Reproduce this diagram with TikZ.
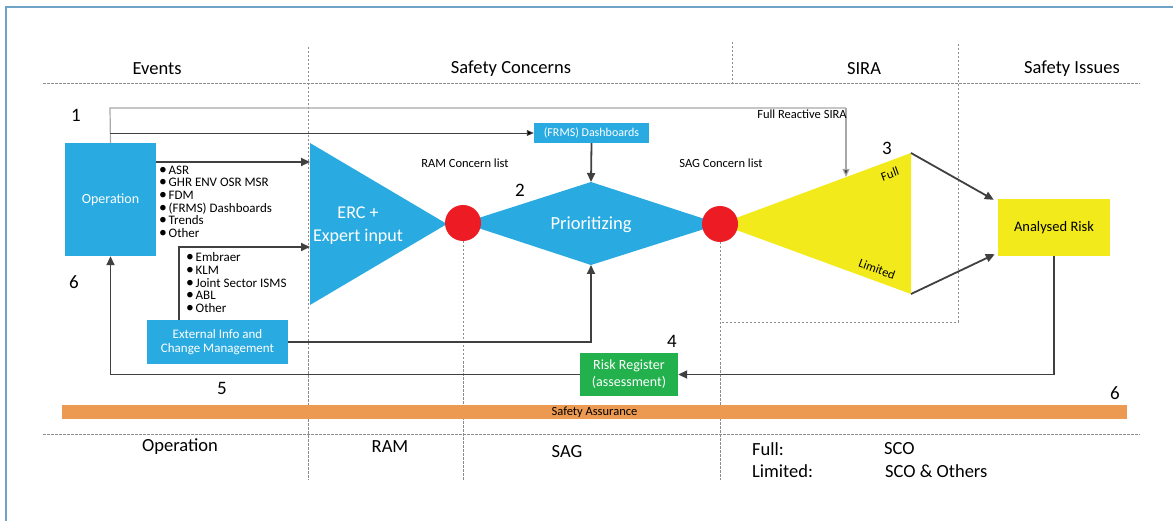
\documentclass[tikz,border=0pt]{standalone}
\usepackage{fontspec}
\usepackage{graphicx}
\setmainfont{Carlito}
\usetikzlibrary{arrows.meta,calc}
\definecolor{cblue}{HTML}{29ABE2}
\definecolor{cred}{HTML}{ED1C24}
\definecolor{cyellow}{HTML}{F2EA1B}
\definecolor{cgreen}{HTML}{22B14C}
\definecolor{corange}{HTML}{EC9A52}
\definecolor{dgray}{HTML}{404040}
\definecolor{lgray}{HTML}{A8A8A8}
\definecolor{framec}{HTML}{6FA3C7}
\definecolor{dashc}{HTML}{8C8C8C}
\newcommand{\fs}[1]{\fontsize{#1}{#1}\selectfont}
\newcommand{\bl}{\makebox[9.5pt][l]{\scalebox{1.2}{•}}}
\tikzset{
  dsh/.style={draw=dashc, line width=0.6pt, dash pattern=on 2.5pt off 1.5pt},
  box/.style={rectangle, inner sep=0pt, text=white, align=center},
  arr/.style={draw=dgray, line width=1.8pt, -{Triangle[length=9pt,width=8pt]}},
  thinarr/.style={draw=dgray, line width=0.9pt, -{Triangle[length=7pt,width=6pt]}},
  hdr/.style={font=\fs{18.5}, text=black},
  num/.style={font=\fs{19}, text=black},
  small/.style={font=\fs{12.5}, text=black},
  lst/.style={font=\fontsize{13}{12.7}\selectfont, align=left, inner sep=0pt, anchor=north west, text=black},
}
\begin{document}
\begin{tikzpicture}[x=1pt,y=-1pt]
\useasboundingbox (0,0) rectangle (1173,521);
% frame
\draw[framec, line width=1.3pt] (6,521) -- (6,7) -- (1173,7);
% dashed guide lines
\draw[dsh] (43,83) -- (1140,83);
\draw[dsh] (43,434) -- (1140,434);
\draw[dsh] (308,47) -- (308,480);
\draw[dsh] (732,42) -- (732,83);
\draw[dsh] (958,44) -- (958,322) -- (720,322);
\draw[dsh] (463,241) -- (463,480);
\draw[dsh] (720,242) -- (720,480);
% headers
\node[hdr] (hev) at (157,69) {Events};
\node[hdr] (hsc) at (511,69) {Safety Concerns};
\node[hdr] (hsira) at (864,69) {SIRA};
\node[hdr] (hsi) at (1072,69) {Safety Issues};
% ERC triangle
\coordinate (t1) at (310,143);
\coordinate (t2) at (310,305);
\coordinate (t3) at (447,224);
\fill[cblue] (t1) -- (t3) -- (t2) -- cycle;
\node[text=white, align=center, font=\fontsize{18}{23}\selectfont] (erc) at (358,226) {ERC +\\Expert input};
% diamond
\coordinate (dtop) at (591,182);
\coordinate (dbot) at (591,265);
\coordinate (dleft) at (463,223);
\coordinate (dright) at (720,224);
\fill[cblue] (dtop) -- (dright) -- (dbot) -- (dleft) -- cycle;
\node[text=white, font=\fs{18.5}] (pri) at (591,225) {Prioritizing};
% yellow triangle
\coordinate (y1) at (720,224);
\coordinate (y2) at (911,153);
\coordinate (y3) at (911,294);
\coordinate (fullpt) at (846,177);
\fill[cyellow] (y1) -- (y2) -- (y3) -- cycle;
\node[small, rotate=20] (tfull) at (890,174) {Full};
\node[small, rotate=-20] (tlim) at (877,269) {Limited};
% red circles
\node[circle, fill=cred, minimum size=36pt, inner sep=0pt] (c1) at (463,223) {};
\node[circle, fill=cred, minimum size=36pt, inner sep=0pt] (c2) at (720,224) {};
% boxes
\node[box, fill=cblue, minimum width=91pt, minimum height=113pt, font=\fs{14}] (op) at (110.5,199.5) {Operation};
\node[box, fill=cblue, minimum width=115pt, minimum height=20pt, font=\fs{12}] (dash) at (591.5,133) {(FRMS) Dashboards};
\node[box, fill=cblue, minimum width=141pt, minimum height=44pt, font=\fontsize{13}{14.5}\selectfont] (ext) at (217.5,342) {External Info and\\Change Management};
\node[box, fill=cyellow, text=black, minimum width=112pt, minimum height=57pt, font=\fs{14.5}] (ar) at (1054,227.5) {Analysed Risk};
\node[box, fill=cgreen, minimum width=98pt, minimum height=43pt, font=\fontsize{14}{17}\selectfont] (rr) at (629,374.5) {Risk Register\\(assessment)};
\node[rectangle, fill=corange, minimum width=1065pt, minimum height=14pt, inner sep=0pt, font=\fs{12.5}] (sa) at (594.5,412) {Safety Assurance};
% connectors
\coordinate (j1) at (110,108);
\coordinate (j2) at (846,108);
\coordinate (j3) at (110,133);
\draw[lgray, line width=1.2pt] (op.north) -- (j1) -- (j2);
\draw[draw=lgray, line width=1.2pt, -{Triangle[length=8pt,width=7pt,fill=dgray]}] (j2) -- (fullpt);
\draw[thinarr, -{Triangle[length=7pt,width=6pt,fill=black]}] (j3) -- (dash.west);
\draw[arr] (dash.south) -- (dtop);
\coordinate (ein1) at (310,162);
\coordinate (ein2) at (310,247);
\draw[arr] (op.east |- ein1) -- (ein1);
\coordinate (es) at (179,320);
\draw[arr] (es) |- (ein2);
\draw[arr] (ext.east) -- (ext.east -| dbot) -- (dbot);
\draw[arr] (y2) -- ([xshift=-4pt,yshift=-1pt]ar.north west);
\draw[arr] (y3) -- ([xshift=-3pt,yshift=2pt]ar.south west);
\draw[arr] (ar.south) -- (ar.south |- rr.east) -- (rr.east);
\draw[arr] (rr.west) -| (op.south);
% lists
\node[lst] (l1) at (159,165.5) {\bl ASR\\\bl GHR ENV OSR MSR\\\bl FDM\\\bl (FRMS) Dashboards\\\bl Trends\\\bl Other};
\node[lst] (l2) at (186,252.5) {\bl Embraer\\\bl KLM\\\bl Joint Sector ISMS\\\bl ABL\\\bl Other};
% labels
\node[small] (ram) at (465,163) {RAM Concern list};
\node[small] (sag) at (721,163) {SAG Concern list};
\node[small] (frs) at (802,114) {Full Reactive SIRA};
% numbers
\node[num] (n1) at (76,115) {1};
\node[num] (n2) at (520,190) {2};
\node[num] (n3) at (887,148) {3};
\node[num] (n4) at (672,341) {4};
\node[num] (n5) at (222,388) {5};
\node[num] (n6a) at (74,282) {6};
\node[num] (n6b) at (1115,393) {6};
% bottom labels
\node[hdr] (bop) at (180,447) {Operation};
\node[hdr] (bram) at (390,447) {RAM};
\node[hdr] (bsag) at (567,452) {SAG};
\node[hdr, anchor=west, inner sep=0pt] (bfull) at (752,449) {Full:};
\node[hdr, anchor=west, inner sep=0pt] (blim) at (752,471) {Limited:};
\node[hdr, anchor=west, inner sep=0pt] (bsco) at (884,449) {SCO};
\node[hdr, anchor=west, inner sep=0pt] (bsco2) at (885,471) {SCO \& Others};
\end{tikzpicture}
\end{document}
